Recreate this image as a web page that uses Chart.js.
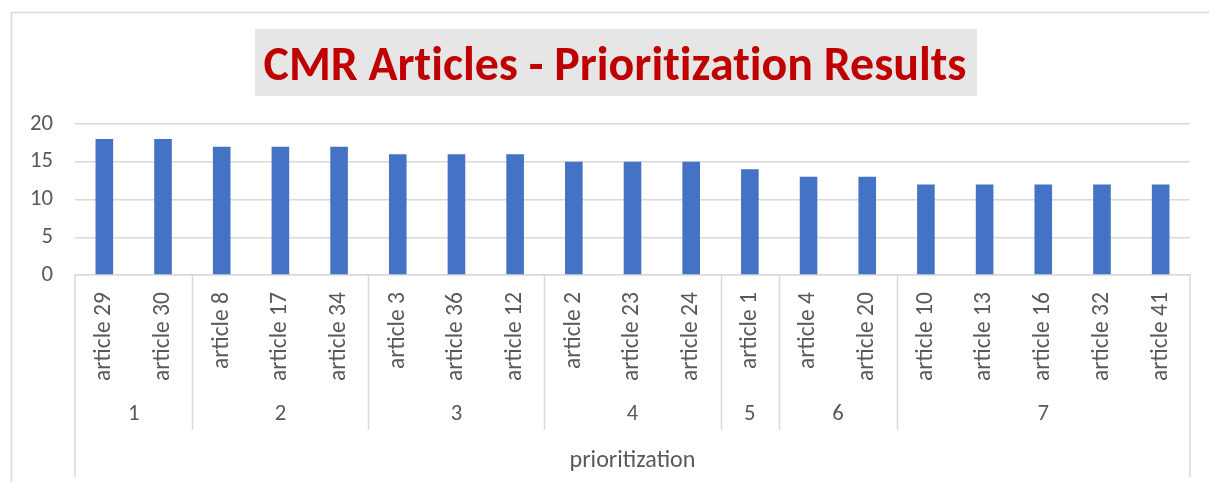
<!DOCTYPE html>
<html>
<head>
<meta charset="utf-8">
<script src="https://cdn.jsdelivr.net/npm/chart.js@4/dist/chart.umd.min.js"></script>
<style>
  html, body { margin: 0; padding: 0; background: #ffffff; }
  #wrap { width: 1209px; height: 482px; }
</style>
</head>
<body>
<div id="wrap"><canvas id="c" width="1209" height="482"></canvas></div>
<script>
const chartTitle = 'CMR Articles - Prioritization Results';
const axisTitle = 'prioritization';
const articles = ['article 29','article 30','article 8','article 17','article 34','article 3','article 36','article 12','article 2','article 23','article 24','article 1','article 4','article 20','article 10','article 13','article 16','article 32','article 41'];
const scores = [18,18,17,17,17,16,16,16,15,15,15,14,13,13,12,12,12,12,12];
const groupNames = ['1','2','3','4','5','6','7'];
const groupSizes = [2,3,3,3,1,2,5];
const yTicks = [0,5,10,15,20];

const FAMILY = 'Carlito, Lato, "Open Sans", sans-serif';
const mctx = document.createElement('canvas').getContext('2d');
function fit(text, weight, target, spacing) {
  mctx.font = weight + ' 100px ' + FAMILY;
  if ('letterSpacing' in mctx) mctx.letterSpacing = spacing || '0px';
  const w = mctx.measureText(text).width;
  if ('letterSpacing' in mctx) mctx.letterSpacing = '0px';
  return 100 * target / w;
}
const tickSize = fit('article 29', 'normal', 89);
const ySize = fit('20', 'normal', 23);
const titleSize = fit(chartTitle, 'bold', 703, '0.01px');
const axisTitleSize = fit(axisTitle, 'normal', 126);

const TEXT = '#595959';
const LINE = '#d9d9d9';

const decor = {
  id: 'decor',
  beforeDraw(chart) {
    const ctx = chart.ctx;
    ctx.save();
    ctx.fillStyle = '#ffffff';
    ctx.fillRect(0, 0, chart.width, chart.height);
    // outer frame
    ctx.strokeStyle = LINE;
    ctx.lineWidth = 1.5;
    ctx.beginPath();
    ctx.moveTo(11.5, 482);
    ctx.lineTo(11.5, 12.5);
    ctx.lineTo(1209, 12.5);
    ctx.stroke();
    // title box
    ctx.fillStyle = '#e7e6e6';
    ctx.fillRect(255, 29, 722, 67);
    ctx.fillStyle = '#c00000';
    ctx.font = 'bold ' + titleSize + 'px ' + FAMILY;
    if ('letterSpacing' in ctx) ctx.letterSpacing = '0.01px';
    ctx.textAlign = 'center';
    ctx.textBaseline = 'alphabetic';
    ctx.fillText(chartTitle, 615, 80);
    if ('letterSpacing' in ctx) ctx.letterSpacing = '0px';
    ctx.restore();
  },
  afterDraw(chart) {
    const ctx = chart.ctx;
    const x = chart.scales.x;
    const area = chart.chartArea;
    const half = (x.getPixelForValue(1) - x.getPixelForValue(0)) / 2;
    ctx.save();
    ctx.strokeStyle = LINE;
    ctx.lineWidth = 1.5;
    ctx.beginPath();
    ctx.moveTo(area.left, area.bottom);
    ctx.lineTo(area.left, 477);
    ctx.moveTo(area.right, area.bottom);
    ctx.lineTo(area.right, 477);
    let idx = 0;
    const bounds = [];
    groupSizes.forEach((n, g) => {
      const start = x.getPixelForValue(idx) - half;
      idx += n;
      const end = x.getPixelForValue(idx - 1) + half;
      bounds.push([start, end]);
      if (g < groupSizes.length - 1) {
        ctx.moveTo(Math.round(end) + 0.5, area.bottom);
        ctx.lineTo(Math.round(end) + 0.5, 430);
      }
    });
    ctx.stroke();
    ctx.fillStyle = TEXT;
    ctx.textAlign = 'center';
    ctx.textBaseline = 'middle';
    ctx.font = ySize + 'px ' + FAMILY;
    bounds.forEach((b, g) => {
      ctx.fillText(groupNames[g], (b[0] + b[1]) / 2, 414);
    });
    ctx.font = axisTitleSize + 'px ' + FAMILY;
    ctx.fillText(axisTitle, (area.left + area.right) / 2, 461);
    ctx.restore();
  }
};

new Chart(document.getElementById('c'), {
  type: 'bar',
  data: {
    labels: articles,
    datasets: [{
      data: scores,
      backgroundColor: '#4472c4',
      borderWidth: 0,
      barPercentage: 0.3,
      categoryPercentage: 1.0
    }]
  },
  options: {
    responsive: false,
    devicePixelRatio: 1,
    animation: false,
    layout: { padding: { left: 0, right: 19, top: 124, bottom: 0 } },
    plugins: { legend: { display: false }, title: { display: false }, tooltip: { enabled: false } },
    scales: {
      y: {
        min: 0, max: 20,
        afterBuildTicks(scale) { scale.ticks = yTicks.map(v => ({ value: v })); },
        afterFit(scale) { scale.width = 75; },
        border: { display: false },
        grid: { color: LINE, lineWidth: 1.5, drawTicks: false },
        ticks: { color: TEXT, font: { family: FAMILY, size: ySize }, padding: 22 }
      },
      x: {
        afterFit(scale) { scale.height = 482 - 124 - 151; },
        border: { display: true, color: LINE, width: 1.5 },
        grid: { display: false, drawTicks: false },
        ticks: {
          color: TEXT, autoSkip: false, minRotation: 90, maxRotation: 90,
          padding: 17,
          font: { family: FAMILY, size: tickSize }
        }
      }
    }
  },
  plugins: [decor]
});
</script>
</body>
</html>
